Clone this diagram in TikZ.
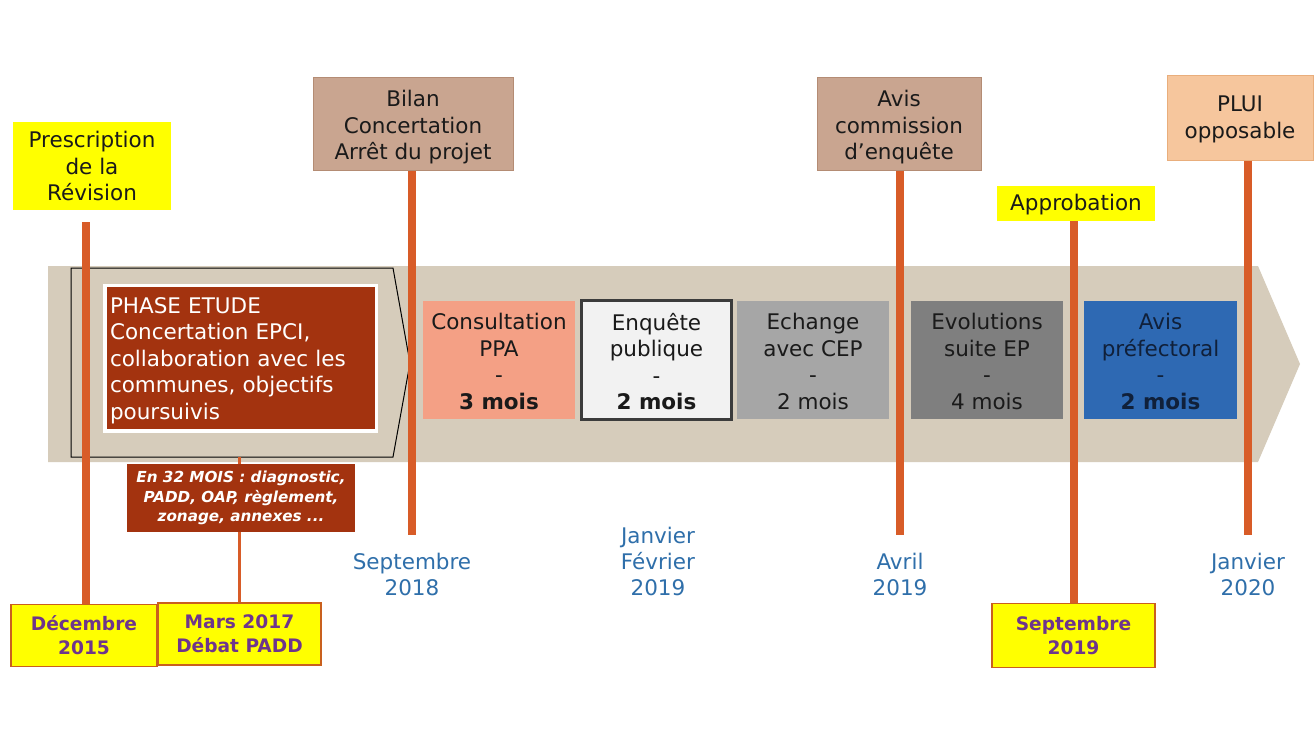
\documentclass[tikz,border=0pt]{standalone}
\usepackage{fontspec}
\setmainfont{DejaVu Sans}
\definecolor{bandc}{HTML}{D6CCBB}
\definecolor{tanfill}{HTML}{C9A590}
\definecolor{tanline}{HTML}{B48C74}
\definecolor{peach}{HTML}{F6C69D}
\definecolor{peachline}{HTML}{E9AE7C}
\definecolor{vorange}{HTML}{D85C28}
\definecolor{phasered}{HTML}{A3330F}
\definecolor{salmon}{HTML}{F4A085}
\definecolor{lightg}{HTML}{F2F2F2}
\definecolor{darkframe}{HTML}{3C3C3C}
\definecolor{midg}{HTML}{A6A6A6}
\definecolor{darkg}{HTML}{7F7F7F}
\definecolor{blueb}{HTML}{2E69B3}
\definecolor{navytxt}{HTML}{10203A}
\definecolor{datec}{HTML}{2F6FAA}
\definecolor{purp}{HTML}{6E358C}
\definecolor{botline}{HTML}{C9601E}
\definecolor{txt}{HTML}{1A1A1A}
\definecolor{pureyellow}{HTML}{FFFF00}
\begin{document}
\begin{tikzpicture}[x=1pt,y=-1pt,
  lbl/.style={font=\fontsize{21.5}{26.5}\selectfont, align=center, inner sep=0pt, text=txt},
  boxshape/.style={inner sep=0pt},
  ybox/.style={boxshape, fill=pureyellow},
  tanbox/.style={boxshape, fill=tanfill, draw=tanline, line width=1pt},
  peachbox/.style={boxshape, fill=peach, draw=peachline, line width=1pt},
  phasebox/.style={boxshape, minimum width=152, minimum height=118},
  datelbl/.style={font=\fontsize{21.5}{26}\selectfont, align=center, inner sep=0pt, text=datec},
  botbox/.style={font=\fontsize{18.6}{24}\bfseries\selectfont, align=center, inner sep=0pt, text=purp, fill=pureyellow, draw=botline, line width=1.5pt},
  vline/.style={draw=vorange, line width=8pt},
  thinvline/.style={draw=vorange, line width=3.5pt}
]
\useasboundingbox (0,0) rectangle (1314,731);
\fill[white] (0,0) rectangle (1314,731);

% band arrow
\fill[bandc] (48,266) -- (1258,266) -- (1300,364) -- (1258,462) -- (48,462) -- cycle;
\draw[black, line width=1pt] (71,268) -- (393,268) -- (410,363) -- (393,457) -- (71,457) -- cycle;

% coordinates for free ends
\coordinate (marstop) at (239.5,457);
\coordinate (presctop) at (86,222);
\coordinate (sep18top) at (412,535);
\coordinate (avr19top) at (900,535);
\coordinate (jan20top) at (1248,535);

% bottom boxes
\node[botbox, minimum width=146, minimum height=62] (dec) at (84,635.5) {Décembre\\2015};
\node[botbox, minimum width=163, minimum height=62] (mars) at (239.5,634) {Mars 2017\\Débat PADD};
\node[botbox, minimum width=163, minimum height=64] (sep19) at (1073.5,635.5) {Septembre\\2019};

% Mars connector (behind small box)
\draw[thinvline] (marstop) -- (mars.north);

% phase etude
\node[boxshape, fill=phasered, draw=white, line width=3.5pt,
      minimum width=271.5, minimum height=145.5] (phase) at (240.5,358) {};
\node[lbl, text=white, align=left, text width=261] (phasetxt) at ([yshift=-2.5]phase.center)
  {PHASE ETUDE\\Concertation EPCI,\\collaboration avec les\\communes, objectifs\\poursuivis};
\node[font=\fontsize{15.2}{19.5}\bfseries\itshape\selectfont, text=white, align=center, inner sep=0pt,
      fill=phasered, minimum width=228, minimum height=68] (mois32) at (241,498)
  {En 32 MOIS : diagnostic,\\PADD, OAP, règlement,\\zonage, annexes ...};

% phase boxes
\node[phasebox, fill=salmon] (ppa) at (499,360) {};
\node[phasebox, fill=lightg, draw=darkframe, line width=3pt, minimum width=150, minimum height=119] (enq) at (656.5,360) {};
\node[phasebox, fill=midg] (ech) at (813,360) {};
\node[phasebox, fill=darkg] (evo) at (987,360) {};
\node[phasebox, fill=blueb, minimum width=153] (avp) at (1160.5,360) {};
\node[lbl] (ppatxt) at ([yshift=-1.5]ppa.center) {Consultation\\PPA\\-\\\textbf{3 mois}};
\node[lbl] (enqtxt) at ([yshift=-1.5]enq.center) {Enquête\\publique\\-\\\textbf{2 mois}};
\node[lbl] (echtxt) at ([yshift=-1.5]ech.center) {Echange\\avec CEP\\-\\2 mois};
\node[lbl] (evotxt) at ([yshift=-1.5]evo.center) {Evolutions\\suite EP\\-\\4 mois};
\node[lbl, text=navytxt] (avptxt) at ([yshift=-1.5]avp.center) {Avis\\préfectoral\\-\\\textbf{2 mois}};

% top boxes
\node[ybox, minimum width=158, minimum height=88] (presc) at (92,166) {};
\node[tanbox, minimum width=200, minimum height=93] (bilan) at (413,123.5) {};
\node[tanbox, minimum width=164, minimum height=93] (aviscom) at (899,123.5) {};
\node[ybox, minimum width=158, minimum height=35] (appro) at (1076,203.5) {};
\node[peachbox, minimum width=146, minimum height=85] (plui) at (1240,117.5) {};
\node[lbl] (presctxt) at (presc.center) {Prescription\\de la\\Révision};
\node[lbl] (bilantxt) at ([yshift=-4]bilan.center) {Bilan\\Concertation\\Arrêt du projet};
\node[lbl] (aviscomtxt) at ([yshift=-4]aviscom.center) {Avis\\commission\\d’enquête};
\node[lbl] (approtxt) at ([yshift=-1]appro.center) {Approbation};
\node[lbl] (pluitxt) at ([yshift=-2]plui.center) {PLUI\\opposable};

% vertical connectors
\draw[vline] (presctop) -- (presctop |- dec.north);
\draw[vline] (sep18top |- bilan.south) -- (sep18top);
\draw[vline] (avr19top |- aviscom.south) -- (avr19top);
\draw[vline] (appro.south -| sep19.north) -- (sep19.north);
\draw[vline] (jan20top |- plui.south) -- (jan20top);

% date labels
\node[datelbl] (sep18) at (412,574) {Septembre\\2018};
\node[datelbl] (jan19) at (658,561) {Janvier\\Février\\2019};
\node[datelbl] (avr19) at (900,574) {Avril\\2019};
\node[datelbl] (jan20) at (1248,574) {Janvier\\2020};
\end{tikzpicture}
\end{document}
